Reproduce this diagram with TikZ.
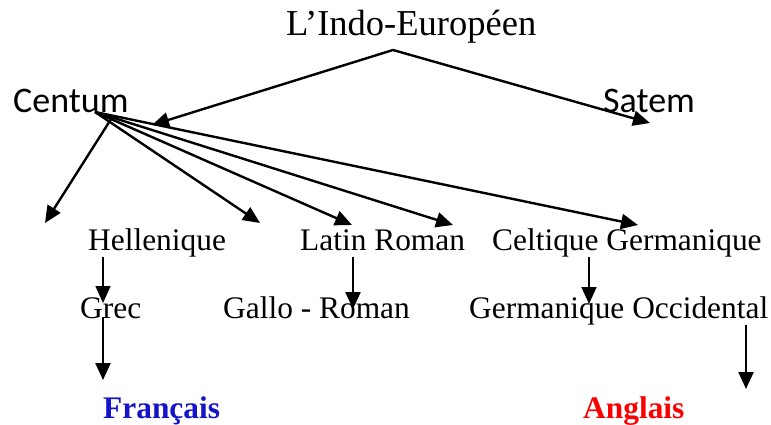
\documentclass[tikz,border=0pt]{standalone}
\usepackage{fontspec}
\setmainfont{Liberation Serif}
\newfontfamily\calibri{Carlito}
\usetikzlibrary{arrows.meta}
\definecolor{fraBlue}{RGB}{20,20,200}
\definecolor{angRed}{RGB}{250,0,0}
\begin{document}
\begin{tikzpicture}[x=1pt,y=-1pt,
  lbl/.style={inner sep=0pt,anchor=base west,font=\fontsize{31.4}{31.4}\selectfont},
  branch/.style={line width=2.4pt,-{Triangle[length=17pt,width=15pt]}},
  thin branch/.style={line width=1.5pt,-{Triangle[length=17pt,width=15pt]}}]
\useasboundingbox (0,0) rectangle (771,425);

% texts
\node[lbl,font=\fontsize{36.5}{36.5}\selectfont] (ie) at (286,36) {L’Indo-Européen};
\node[lbl,font=\calibri\fontsize{36}{36}\selectfont] (centum) at (13,113) {Centum};
\node[lbl,font=\calibri\fontsize{36}{36}\selectfont] (satem) at (603,113) {Satem};
\node[lbl] (hell) at (88,250) {Hellenique};
\node[lbl] (latin) at (300,250) {Latin Roman};
\node[lbl] (celt) at (492,250) {Celtique Germanique};
\node[lbl] (grec) at (80,318) {Grec};
\node[lbl] (gallo) at (223,318) {Gallo - Roman};
\node[lbl] (gocc) at (469,318) {Germanique Occidental};
\node[lbl,font=\bfseries\fontsize{31.4}{31.4}\selectfont,text=fraBlue] (fr) at (103,418) {Français};
\node[lbl,font=\bfseries\fontsize{31.4}{31.4}\selectfont,text=angRed] (en) at (583,418) {Anglais};

% connector end points
\coordinate (apex) at (393,50);
\coordinate (cTip) at (152,125);
\coordinate (sTip) at (650,123);
\coordinate (cSrc) at (95,112);
\coordinate (cSrcL) at (113,116);
\coordinate (t1) at (45,223);
\coordinate (t2) at (260,223);
\coordinate (t3) at (352,225);
\coordinate (t4) at (453,225);
\coordinate (t5) at (638,225);
\coordinate (hA) at (103,257);  \coordinate (hB) at (103,303);
\coordinate (lA) at (353,257);  \coordinate (lB) at (353,309);
\coordinate (kA) at (589,257);  \coordinate (kB) at (589,304);
\coordinate (gA) at (103,317);  \coordinate (gB) at (103,380);
\coordinate (oA) at (746,325);  \coordinate (oB) at (746,389);

% Indo-European split
\draw[branch] (apex) -- (cTip);
\draw[branch] (apex) -- (sTip);

% Centum branches
\draw[branch] (cSrcL) -- (t1);
\draw[branch] (cSrc) -- (t2);
\draw[branch] (cSrc) -- (t3);
\draw[branch] (cSrc) -- (t4);
\draw[branch] (cSrc) -- (t5);

% descendants
\draw[thin branch] (hA) -- (hB);
\draw[branch] (lA) -- (lB);
\draw[thin branch] (kA) -- (kB);
\draw[branch] (gA) -- (gB);
\draw[branch] (oA) -- (oB);
\end{tikzpicture}
\end{document}
